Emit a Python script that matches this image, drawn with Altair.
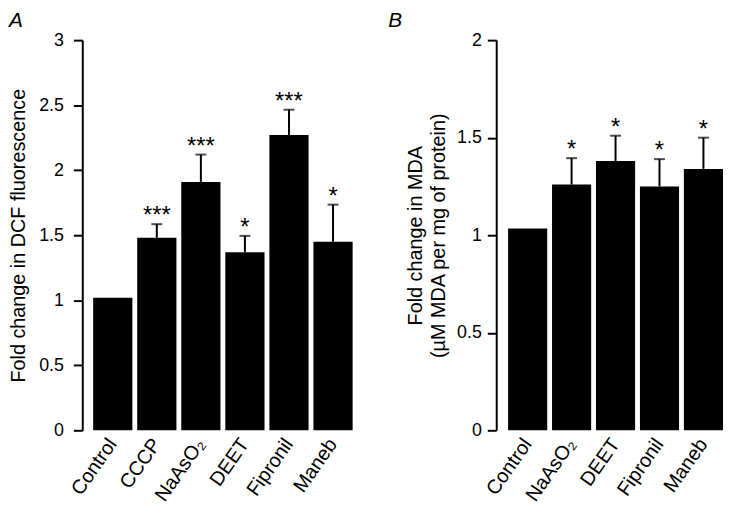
import altair as alt
import pandas as pd

FONT = "Liberation Sans"

# Panel A: DCF fluorescence
a_groups = ["Control", "CCCP", "NaAsO₂", "DEET", "Fipronil", "Maneb"]
a_mean = [1.02, 1.48, 1.91, 1.37, 2.27, 1.45]
a_sem = [0.0, 0.105, 0.21, 0.125, 0.195, 0.285]
a_sig = ["", "***", "***", "*", "***", "*"]
a_ticks = [0, 0.5, 1, 1.5, 2, 2.5, 3]

# Panel B: MDA
b_groups = ["Control", "NaAsO₂", "DEET", "Fipronil", "Maneb"]
b_mean = [1.035, 1.26, 1.38, 1.25, 1.34]
b_sem = [0.0, 0.135, 0.13, 0.14, 0.16]
b_sig = ["", "*", "*", "*", "*"]
b_ticks = [0, 0.5, 1, 1.5, 2]


def panel(groups, mean, sem, sig, ticks, letter, ytitle, ymax, width,
          pad_outer, align, label_pad, title_pad, title_dx):
    df = pd.DataFrame({"group": groups, "mean": mean, "sem": sem, "sig": sig})
    df["upper"] = df["mean"] + df["sem"]

    xscale = alt.Scale(paddingInner=0.11, paddingOuter=pad_outer, align=align)
    xaxis = alt.Axis(title=None, labelAngle=-55, labelAlign="right",
                     labelBaseline="middle", labelFontSize=20, labelPadding=10,
                     ticks=False, tickSize=0, domain=False)
    x = alt.X("group:N", sort=groups, scale=xscale, axis=xaxis)
    yscale = alt.Scale(domain=[0, ymax], nice=False)
    yaxis = alt.Axis(title=ytitle, values=ticks, format="~g", tickSize=9,
                     labelPadding=label_pad, titlePadding=title_pad,
                     labelFontSize=18, titleFontSize=20, titleLineHeight=23)

    base = alt.Chart(df)
    bars = base.mark_bar(color="black").encode(
        x=x, y=alt.Y("mean:Q", scale=yscale, axis=yaxis))
    err = base.transform_filter("datum.sem > 0")
    rule = err.mark_rule(color="black", strokeWidth=2).encode(
        x=alt.X("group:N", sort=groups), y="mean:Q", y2="upper:Q")
    cap = err.mark_tick(color="black", size=11, thickness=2).encode(
        x=alt.X("group:N", sort=groups), y="upper:Q")
    stars = err.mark_text(color="black", fontSize=24, baseline="alphabetic",
                          dy=-1, font=FONT).encode(
        x=alt.X("group:N", sort=groups), y="upper:Q", text="sig:N")
    return alt.layer(bars, rule, cap, stars).properties(
        width=width, height=394,
        title=alt.TitleParams(letter, anchor="start", fontStyle="italic",
                              fontWeight="normal", fontSize=21, font=FONT,
                              color="black", offset=0, dx=title_dx))


pa = panel(a_groups, a_mean, a_sem, a_sig, a_ticks, "A",
           "Fold change in DCF fluorescence", 3, 284, 0.247, 0.5, 10, 10, 0)
pb = panel(b_groups, b_mean, b_sem, b_sig, b_ticks, "B",
           ["Fold change in MDA", "(µM MDA per mg of protein)"], 2, 229,
           0.135, 1.0, 6, 8, -18)

chart = alt.hconcat(pa, pb, spacing=24).properties(padding=0).configure_view(
    stroke=None).configure_axis(
    labelFont=FONT, titleFont=FONT, labelColor="black", titleColor="black",
    domainColor="black", tickColor="black", domainWidth=2, tickWidth=2,
    grid=False, titleFontWeight="normal")

chart.save("out.html", embed_options={"renderer": "svg", "actions": False})
